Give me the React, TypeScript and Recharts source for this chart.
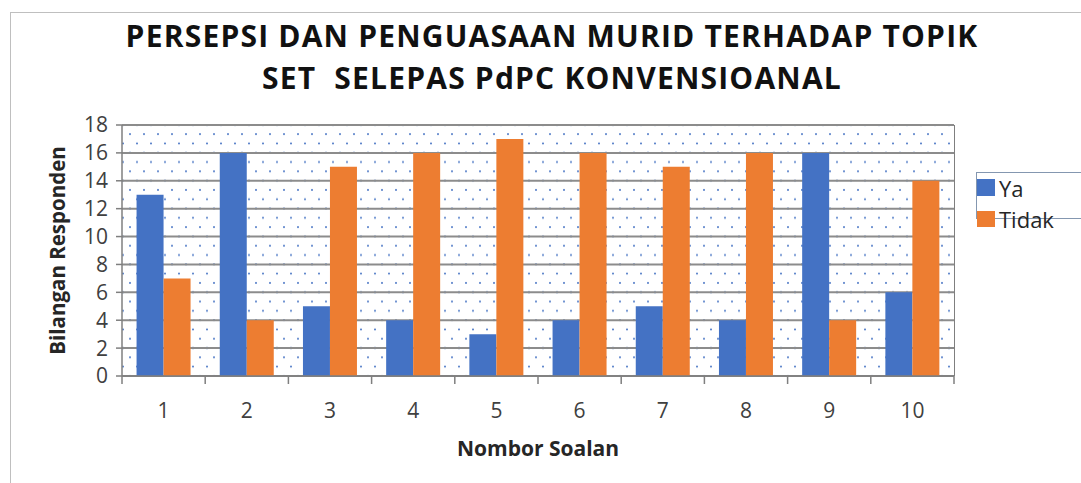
import { BarChart, Bar, XAxis, YAxis, CartesianGrid } from 'recharts';

const soalan = ['1', '2', '3', '4', '5', '6', '7', '8', '9', '10'];
const ya = [13, 16, 5, 4, 3, 4, 5, 4, 16, 6];
const tidak = [7, 4, 15, 16, 17, 16, 15, 16, 4, 14];
const yTicks = [0, 2, 4, 6, 8, 10, 12, 14, 16, 18];

const W = 1081;
const H = 483;
const M = { top: 125, right: 127, left: 62, bottom: 47 };
const PLOT_W = W - 122 - M.right;
const BAND = PLOT_W / soalan.length;

const data = soalan.map((s, i) => ({ soalan: s, Ya: ya[i], Tidak: tidak[i] }));

const font = '"Open Sans", sans-serif';

// category ticks sit on the band edges, labels in the middle
function XTick(props: any) {
  const { x, y, payload, index } = props;
  return (
    <g>
      <line x1={x - BAND / 2} x2={x - BAND / 2} y1={y} y2={y + 8} stroke="#7f7f7f" strokeWidth={1.5} />
      {index === soalan.length - 1 && (
        <line x1={x + BAND / 2} x2={x + BAND / 2} y1={y} y2={y + 8} stroke="#7f7f7f" strokeWidth={1.5} />
      )}
      <text x={x} y={y + 42} textAnchor="middle" fill="#404040" fontSize={21} fontFamily={font}>
        {payload.value}
      </text>
    </g>
  );
}

export default function App() {
  return (
    <div style={{ position: 'absolute', left: 0, top: 0, width: W, height: H, background: '#fff', overflow: 'hidden' }}>
      <div style={{ position: 'absolute', left: 10, top: 12, width: 1200, height: 600, border: '1.5px solid #bfbfbf' }} />
      <div
        style={{
          position: 'absolute', left: 0, top: 15, width: 1104, textAlign: 'center',
          fontFamily: font, fontWeight: 700, fontSize: 30, letterSpacing: 1.2, lineHeight: '42px', color: '#111',
        }}
      >
        <div>PERSEPSI DAN PENGUASAAN MURID TERHADAP TOPIK</div>
        <div style={{ whiteSpace: 'pre' }}>SET  SELEPAS PdPC KONVENSIOANAL</div>
      </div>
      <div style={{ position: 'absolute', left: 0, top: 0 }}>
        <BarChart width={W} height={H} data={data} margin={M} barCategoryGap="17.5%" barGap={0}>
          <defs>
            <pattern id="dots" width={14} height={18.6} patternUnits="userSpaceOnUse">
              <rect width={14} height={18.6} fill="#fff" />
              <circle cx={4} cy={4} r={1} fill="#4472c4" />
              <circle cx={11} cy={13.3} r={1} fill="#4472c4" />
            </pattern>
          </defs>
          <CartesianGrid
            vertical={false}
            fill="url(#dots)"
            stroke="#8c8c8c"
            strokeWidth={2}
          />
          <XAxis
            dataKey="soalan"
            height={60}
            tickSize={0}
            tickMargin={0}
            tick={<XTick />}
            axisLine={{ stroke: '#7f7f7f', strokeWidth: 1.5 }}
            interval={0}
            label={{ value: 'Nombor Soalan', position: 'insideBottom', offset: -20, fill: '#262626', fontSize: 21, fontWeight: 700, fontFamily: font }}
          />
          <YAxis
            width={60}
            domain={[0, 18]}
            ticks={yTicks}
            interval={0}
            tickSize={6}
            tickMargin={8}
            tick={{ fill: '#404040', fontSize: 21, fontFamily: font }}
            tickLine={{ stroke: '#7f7f7f', strokeWidth: 1.5 }}
            axisLine={{ stroke: '#7f7f7f', strokeWidth: 1.5 }}
            label={{ value: 'Bilangan Responden', angle: -90, position: 'insideLeft', offset: -4, dy: 0, fill: '#262626', fontSize: 20.5, fontWeight: 700, fontFamily: font, style: { textAnchor: 'middle' } }}
          />
          <Bar dataKey="Ya" fill="#4472c4" isAnimationActive={false} />
          <Bar dataKey="Tidak" fill="#ed7d31" isAnimationActive={false} />
        </BarChart>
      </div>
      <div style={{ position: 'absolute', left: 954, top: 125, width: 0, height: 251, borderRight: '1.5px solid #7f7f7f' }} />
      <div style={{ position: 'absolute', left: 976, top: 172, width: 130, height: 45, border: '1.5px solid #8497b0' }} />
      <div style={{ position: 'absolute', left: 977, top: 179, width: 18, height: 17, background: '#4472c4' }} />
      <div style={{ position: 'absolute', left: 999, top: 173, fontFamily: font, fontSize: 22, lineHeight: '30px', color: '#262626' }}>Ya</div>
      <div style={{ position: 'absolute', left: 977, top: 211, width: 18, height: 16, background: '#ed7d31' }} />
      <div style={{ position: 'absolute', left: 999, top: 204, fontFamily: font, fontSize: 22, lineHeight: '30px', color: '#262626' }}>Tidak</div>
    </div>
  );
}
